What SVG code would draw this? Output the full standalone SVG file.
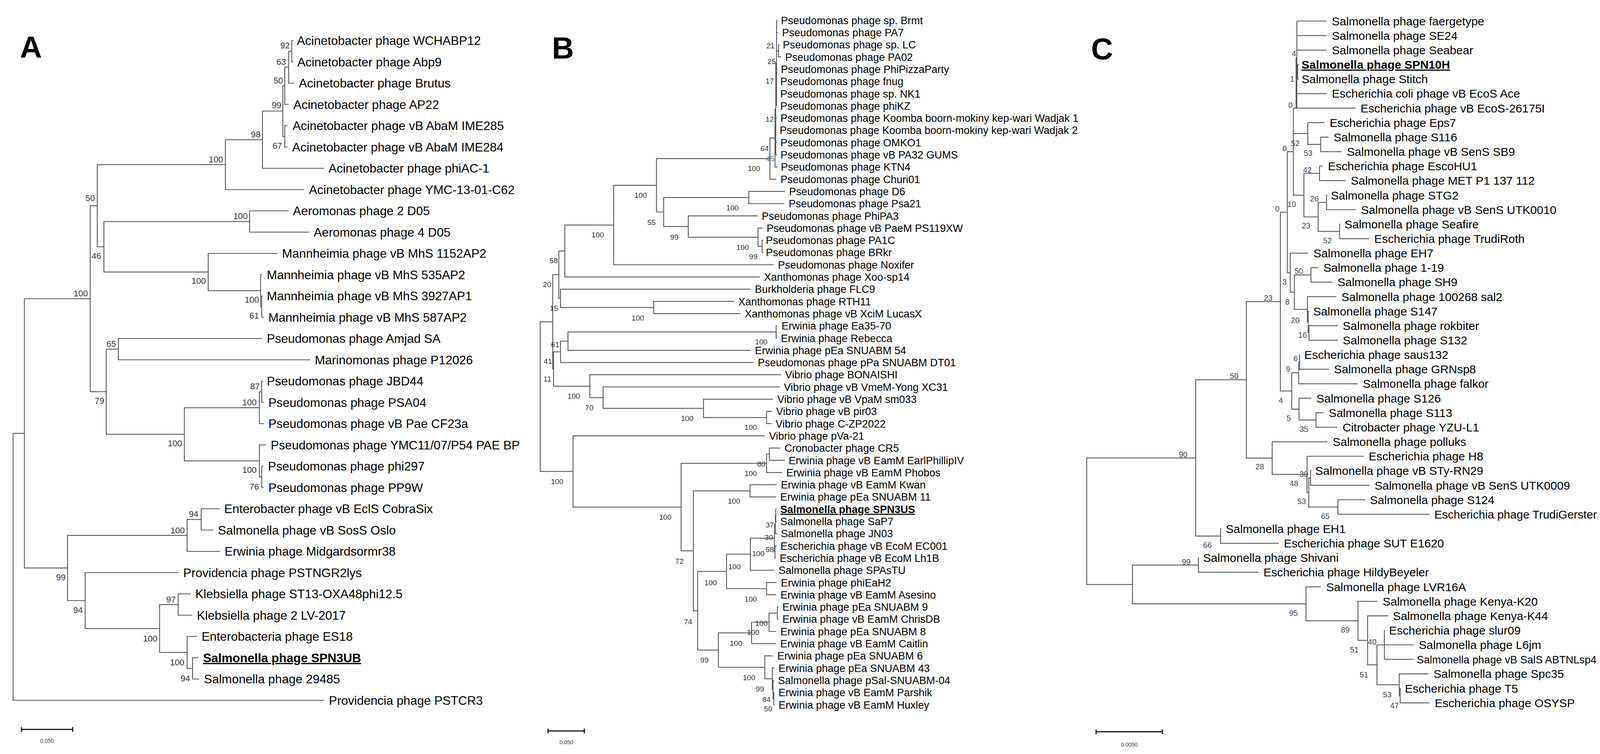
<svg xmlns="http://www.w3.org/2000/svg" width="4164" height="1931" viewBox="0 0 4164 1931">
<style>
.br{fill:none;stroke:#555;stroke-width:2.2}
.sbar{fill:none;stroke:#111;stroke-width:3}
text{font-family:"Liberation Sans",Arial,sans-serif}
.ta{font-size:31.5px;fill:#000}
.tb{font-size:27px;fill:#000}
.tc{font-size:30px;fill:#000}
.hl{font-weight:bold;text-decoration:underline}
.sa{font-size:22px;fill:#333;text-anchor:end}
.sb{font-size:19px;fill:#333;text-anchor:end}
.sc{font-size:20px;fill:#34475d;text-anchor:end}
.blue{fill:#4a7ba6}
.pl{font-size:78px;font-weight:bold;fill:#000}
.sl{font-size:14px;fill:#444;text-anchor:middle}
</style>
<rect width="4164" height="1931" fill="#fff"/>
<g id="panel-letters">
<text class="pl" x="51" y="148">A</text>
<text class="pl" x="1413" y="150">B</text>
<text class="pl" x="2793" y="152">C</text>
</g>
<g id="branches">
<!-- Panel A -->
<path class="br" d="M751 104H747V158.5H751"/>
<path class="br" d="M747 131.3H739V213H753"/>
<path class="br" d="M739 172.1H729V267.5H739"/>
<path class="br" d="M736 322H729V376.5H736"/>
<path class="br" d="M729 219.8H724V349.3H729"/>
<path class="br" d="M724 284.5H672V431H829"/>
<path class="br" d="M672 357.8H577V485.5H779"/>
<path class="br" d="M738 540H639V594.5H791"/>
<path class="br" d="M673 758H670V812.5H675"/>
<path class="br" d="M671 703.5H667V785.3H670"/>
<path class="br" d="M710 649H533V744.4H667"/>
<path class="br" d="M639 567.3H266V696.7H533"/>
<path class="br" d="M577 421.6H249V632H266"/>
<path class="br" d="M671 867H303V921.5H794"/>
<path class="br" d="M673 976H670V1030.5H675"/>
<path class="br" d="M670 1003.3H664V1085H675"/>
<path class="br" d="M674 1194H670V1248.5H675"/>
<path class="br" d="M681 1139.5H664V1221.3H670"/>
<path class="br" d="M664 1044.1H472V1180.4H664"/>
<path class="br" d="M303 894.3H272V1112.2H472"/>
<path class="br" d="M249 526.8H231V1003.2H272"/>
<path class="br" d="M562 1303H515V1357.5H546"/>
<path class="br" d="M515 1330.3H479V1412H563"/>
<path class="br" d="M488 1521H456V1575.5H492"/>
<path class="br" d="M508 1684.5H493V1739H510"/>
<path class="br" d="M504 1630H479V1711.8H493"/>
<path class="br" d="M456 1548.3H408.5V1670.9H479"/>
<path class="br" d="M457 1466.5H218V1609.6H408.5"/>
<path class="br" d="M479 1371.1H173V1538H218"/>
<path class="br" d="M231 765H62.5V1454.6H173"/>
<path class="br" d="M62.5 1109.8H33.5V1793.5H830"/>
<!-- Panel B -->
<path class="br" d="M1995 114.6H1993V145.9H2000"/>
<path class="br" d="M1988 52V271.1M1988 52H1990M1988 83.3H1992M1988 130.3H1993M1988 177.2H1990M1988 208.5H1989M1988 239.8H1989M1988 271.1H1989"/>
<path class="br" d="M1986 161.6V396.3M1986 161.6H1988M1986 302.4H1989M1986 333.7H1987M1986 365H1989M1986 396.3H1989"/>
<path class="br" d="M1986 278.9H1984V427.6H1990"/>
<path class="br" d="M1984 353.3H1971V458.9H1987"/>
<path class="br" d="M2009 490.2H1917V521.5H2008"/>
<path class="br" d="M1954 615.4H1951V646.7H1954"/>
<path class="br" d="M1952 584.1H1940.5V631.1H1951"/>
<path class="br" d="M1940 552.8H1762V607.6H1940.5"/>
<path class="br" d="M1917 505.9H1699V580.2H1762"/>
<path class="br" d="M1971 406.1H1680.6V543H1699"/>
<path class="br" d="M1680.6 474.6H1571V678H1980"/>
<path class="br" d="M1571 576.3H1446V709.3H1945"/>
<path class="br" d="M1879.5 771.9H1673.5V803.2H1896"/>
<path class="br" d="M1921.5 740.6H1435V787.6H1673.5"/>
<path class="br" d="M1446 642.8H1430.6V764.1H1435"/>
<path class="br" d="M1990 834.5H1987V865.8H1989"/>
<path class="br" d="M1987 850.2H1454V897.1H1921.5"/>
<path class="br" d="M1454 873.6H1435V928.4H1929"/>
<path class="br" d="M1976 1053.6H1962.5V1084.9H1975"/>
<path class="br" d="M1979 1022.3H1801V1069.3H1962.5"/>
<path class="br" d="M1996 991H1544V1045.8H1801"/>
<path class="br" d="M1999 959.7H1510V1018.4H1544"/>
<path class="br" d="M1435 901H1417V989.1H1510"/>
<path class="br" d="M1430.6 703.5H1415V945H1417"/>
<path class="br" d="M1998 1147.5H1969.5V1178.8H2009"/>
<path class="br" d="M1969.5 1163.2H1962.5V1210.1H2002"/>
<path class="br" d="M1988 1241.4H1920V1272.7H1987"/>
<path class="br" d="M1988 1304H1986V1335.3H1988"/>
<path class="br" d="M1986 1319.7H1985V1366.6H1989"/>
<path class="br" d="M1988 1397.9H1984V1429.2H1986"/>
<path class="br" d="M1985 1343.1H1982.5V1413.6H1984"/>
<path class="br" d="M1982.5 1378.3H1921V1460.5H1982"/>
<path class="br" d="M1988 1491.8H1962.5V1523.1H1987"/>
<path class="br" d="M1921 1419.4H1860V1507.5H1962.5"/>
<path class="br" d="M1993 1554.4H1990V1585.7H1993"/>
<path class="br" d="M1990 1570.1H1968.7V1617H1987"/>
<path class="br" d="M1968.7 1593.5H1924V1648.3H1987"/>
<path class="br" d="M1983 1773.5H1981V1804.8H1983"/>
<path class="br" d="M1982 1742.2H1979V1789.2H1981"/>
<path class="br" d="M1983 1710.9H1977V1765.7H1979"/>
<path class="br" d="M1978 1679.6H1958V1738.3H1977"/>
<path class="br" d="M1924 1620.9H1839V1709H1958"/>
<path class="br" d="M1860 1463.4H1786V1664.9H1839"/>
<path class="br" d="M1920 1257.1H1775V1564.2H1786"/>
<path class="br" d="M1962.5 1186.6H1743.6V1410.6H1775"/>
<path class="br" d="M1958 1116.2H1467V1298.6H1743.6"/>
<path class="br" d="M1415 824.2H1383V1207.4H1467"/>
<!-- Panel C -->
<path class="br" d="M3325 165.5H3322V202.6H3325"/>
<path class="br" d="M3320 54V276.9M3320 54H3396M3320 91.2H3396M3320 128.3H3396M3320 184H3322M3320 239.8H3396M3311 276.9H3470"/>
<path class="br" d="M3318 147V276.9"/>
<path class="br" d="M3401 351.2H3381V388.4H3435"/>
<path class="br" d="M3391 314.1H3348V369.8H3381"/>
<path class="br" d="M3387 425.5H3378V462.7H3445"/>
<path class="br" d="M3398 499.8H3396V537H3471"/>
<path class="br" d="M3431 574.1H3429.5V611.3H3505"/>
<path class="br" d="M3396 518.4H3374.6V592.7H3429.5"/>
<path class="br" d="M3378 444.1H3338V555.5H3374.6"/>
<path class="br" d="M3311 276.9V499.8H3338M3311 341.9H3348"/>
<path class="br" d="M3375 685.6H3356V722.7H3411"/>
<path class="br" d="M3425 834.2H3351V871.3H3425"/>
<path class="br" d="M3351 797H3349V852.7H3351"/>
<path class="br" d="M3421 759.9H3347V824.9H3349"/>
<path class="br" d="M3356 704.1H3313.5V792.4H3347"/>
<path class="br" d="M3349 648.4H3303V748.3H3313.5"/>
<path class="br" d="M3311 388.4H3295.6V698.3H3303"/>
<path class="br" d="M3328 908.5H3327V945.6H3402"/>
<path class="br" d="M3327 927H3324.6V982.8H3476"/>
<path class="br" d="M3388 1057.1H3369V1094.2H3424"/>
<path class="br" d="M3357 1019.9H3325.5V1075.6H3369"/>
<path class="br" d="M3324.6 954.9H3306.8V1047.8H3325.5"/>
<path class="br" d="M3295.6 543.4H3277.8V1001.3H3306.8"/>
<path class="br" d="M3357 1205.7H3355V1242.8H3506"/>
<path class="br" d="M3494.6 1280H3425V1317.1H3660"/>
<path class="br" d="M3355 1224.2H3350.5V1298.5H3425"/>
<path class="br" d="M3491 1168.5H3346V1261.4H3350.5"/>
<path class="br" d="M3398 1131.4H3256.8V1214.9H3346"/>
<path class="br" d="M3277.8 772.4H3190.7V1173.1H3256.8"/>
<path class="br" d="M3126.5 1354.3H3124.6V1391.4H3274"/>
<path class="br" d="M3190.7 972.7H3061V1372.8H3124.6"/>
<path class="br" d="M3069.5 1428.6H3068V1465.7H3222"/>
<path class="br" d="M3544 1614.3V1688.6M3544 1614.3H3545.5M3544 1651.5H3619.4M3544 1688.6H3619.4"/>
<path class="br" d="M3586 1762.9H3584.5V1800.1H3660"/>
<path class="br" d="M3657 1725.8H3582V1781.5H3584.5"/>
<path class="br" d="M3544 1651.5H3525V1753.6H3582"/>
<path class="br" d="M3554 1577.2H3501V1702.6H3525"/>
<path class="br" d="M3526.5 1540H3476.4V1639.9H3501"/>
<path class="br" d="M3381 1502.9H3343.4V1589.9H3476.4"/>
<path class="br" d="M3068 1447.2H2899V1546.4H3343.4"/>
<path class="br" d="M3061 1172.8H2782V1496.8H2899"/>
</g>
<g id="scale-bars">
<path class="sbar" d="M55 1868H186M55 1862V1874M186 1862V1874"/>
<text class="sl" x="120.5" y="1902">0.050</text>
<path class="sbar" d="M1403 1872H1496M1403 1866V1878M1496 1866V1878"/>
<text class="sl" x="1450" y="1906">0.050</text>
<path class="sbar" d="M2806 1874H2975.5M2806 1868V1880M2975.5 1868V1880"/>
<text class="sl" x="2891" y="1912">0.0050</text>
</g>
<g id="support-A">
<text class="sa" x="742" y="124">92</text>
<text class="sa" x="732" y="166">63</text>
<text class="sa" x="724.5" y="214">50</text>
<text class="sa" x="720" y="277">99</text>
<text class="sa" x="722" y="381">67</text>
<text class="sa" x="667" y="352">98</text>
<text class="sa" x="571" y="416">100</text>
<text class="sa" x="243" y="515">50</text>
<text class="sa" x="634" y="561">100</text>
<text class="sa" x="259" y="663">46</text>
<text class="sa" x="527" y="727">100</text>
<text class="sa" x="663" y="775">100</text>
<text class="sa" x="663" y="816">61</text>
<text class="sa" x="225" y="759">100</text>
<text class="sa" x="297" y="888">65</text>
<text class="sa" x="665" y="997">87</text>
<text class="sa" x="267" y="1034">79</text>
<text class="sa" x="657" y="1038">100</text>
<text class="sa" x="466" y="1143">100</text>
<text class="sa" x="657" y="1211">100</text>
<text class="sa" x="663" y="1253.5">76</text>
<text class="sa" x="508" y="1324">94</text>
<text class="sa" x="473" y="1366">100</text>
<text class="sa" x="168" y="1486">99</text>
<text class="sa" x="212" y="1569.5">94</text>
<text class="sa" x="450" y="1543">97</text>
<text class="sa" x="403" y="1643">100</text>
<text class="sa" x="472" y="1704">100</text>
<text class="sa" x="486.6" y="1745">94</text>
</g>
<g id="support-B">
<text class="sb" x="1983" y="124">21</text>
<text class="sb" x="1986" y="164">25</text>
<text class="sb" x="1981" y="214">17</text>
<text class="sb" x="1981" y="312">12</text>
<text class="sb" x="1968" y="387">64</text>
<text class="sb blue" x="1982" y="413">45</text>
<text class="sb" x="1946" y="438">100</text>
<text class="sb" x="1656" y="507">100</text>
<text class="sb" x="1891" y="539">100</text>
<text class="sb" x="1678.5" y="576">55</text>
<text class="sb" x="1737" y="613.6">99</text>
<text class="sb" x="1546" y="608">100</text>
<text class="sb" x="1917" y="640">100</text>
<text class="sb" x="1939" y="664">99</text>
<text class="sb" x="1428" y="674">58</text>
<text class="sb" x="1411" y="735">20</text>
<text class="sb" x="1428.5" y="796">15</text>
<text class="sb" x="1648.7" y="820.6">100</text>
<text class="sb" x="1964.6" y="882">100</text>
<text class="sb" x="1432" y="889">61</text>
<text class="sb" x="1413" y="932">41</text>
<text class="sb" x="1411" y="976.7">11</text>
<text class="sb" x="1484.5" y="1021">100</text>
<text class="sb" x="1519" y="1050.6">70</text>
<text class="sb" x="1775" y="1077.8">100</text>
<text class="sb" x="1937.6" y="1101">100</text>
<text class="sb" x="1442" y="1240">100</text>
<text class="sb" x="1959.6" y="1194.7">80</text>
<text class="sb" x="1937.6" y="1219.4">100</text>
<text class="sb" x="1895" y="1289.6">100</text>
<text class="sb" x="1719" y="1330.6">100</text>
<text class="sb" x="1981" y="1351">37</text>
<text class="sb" x="1979" y="1382.5">30</text>
<text class="sb" x="1981" y="1414">58</text>
<text class="sb" x="1957" y="1423.6">100</text>
<text class="sb" x="1750" y="1443.8">72</text>
<text class="sb" x="1896" y="1458">100</text>
<text class="sb" x="1835" y="1499">100</text>
<text class="sb" x="1937.6" y="1540.5">100</text>
<text class="sb" x="1772" y="1598.6">74</text>
<text class="sb" x="1965" y="1602.5">100</text>
<text class="sb" x="1944" y="1626">100</text>
<text class="sb" x="1900" y="1654">100</text>
<text class="sb" x="1814" y="1697">99</text>
<text class="sb" x="1933.5" y="1741.5">100</text>
<text class="sb" x="1956" y="1771">99</text>
<text class="sb" x="1973" y="1797.8">84</text>
<text class="sb" x="1977" y="1821.8">50</text>
</g>
<g id="support-C">
<text class="sc" x="3318" y="144">4</text>
<text class="sc" x="3313.5" y="209.4">1</text>
<text class="sc" x="3309" y="275.6">0</text>
<text class="sc" x="3327" y="373.5">52</text>
<text class="sc" x="3294" y="387">0</text>
<text class="sc" x="3360" y="399">53</text>
<text class="sc" x="3358" y="442">42</text>
<text class="sc" x="3318" y="529.7">10</text>
<text class="sc" x="3275.5" y="542">0</text>
<text class="sc" x="3376" y="515.6">26</text>
<text class="sc" x="3354.5" y="584.8">23</text>
<text class="sc" x="3409.5" y="622.8">52</text>
<text class="sc" x="3336" y="701">50</text>
<text class="sc" x="3294" y="728.7">3</text>
<text class="sc" x="3257.7" y="770.3">23</text>
<text class="sc" x="3301" y="779.5">8</text>
<text class="sc" x="3327" y="826.7">20</text>
<text class="sc" x="3346" y="864.7">16</text>
<text class="sc" x="3322.4" y="924.7">6</text>
<text class="sc" x="3303" y="952">9</text>
<text class="sc" x="3170.6" y="970.3">50</text>
<text class="sc" x="3284.5" y="1031.7">4</text>
<text class="sc" x="3304.5" y="1077.8">5</text>
<text class="sc" x="3349" y="1105.6">35</text>
<text class="sc" x="3040" y="1170.7">90</text>
<text class="sc" x="3236" y="1202.3">28</text>
<text class="sc" x="3349" y="1221.3">30</text>
<text class="sc" x="3323.7" y="1244.7">48</text>
<text class="sc" x="3343.4" y="1290.8">53</text>
<text class="sc" x="3404" y="1328.8">65</text>
<text class="sc" x="3102.3" y="1403.3">66</text>
<text class="sc" x="3047.9" y="1445.7">99</text>
<text class="sc" x="3322.4" y="1576.5">95</text>
<text class="sc" x="3455" y="1619.5">89</text>
<text class="sc" x="3478.2" y="1671.4">51</text>
<text class="sc" x="3523.8" y="1651">40</text>
<text class="sc" x="3503" y="1734.6">51</text>
<text class="sc" x="3562.5" y="1785.8">53</text>
<text class="sc" x="3581" y="1813.6">47</text>
</g>
<g id="A01"><text class="ta" x="760" y="115.3">Acinetobacter phage WCHABP12</text></g>
<g id="A02"><text class="ta" x="761" y="169.8">Acinetobacter phage Abp9</text></g>
<g id="A03"><text class="ta" x="765" y="224.3">Acinetobacter phage Brutus</text></g>
<g id="A04"><text class="ta" x="751" y="278.8">Acinetobacter phage AP22</text></g>
<g id="A05"><text class="ta" x="749" y="333.3">Acinetobacter phage vB AbaM IME285</text></g>
<g id="A06"><text class="ta" x="748" y="387.8">Acinetobacter phage vB AbaM IME284</text></g>
<g id="A07"><text class="ta" x="841" y="442.3">Acinetobacter phage phiAC-1</text></g>
<g id="A08"><text class="ta" x="791" y="496.8">Acinetobacter phage YMC-13-01-C62</text></g>
<g id="A09"><text class="ta" x="750" y="551.3">Aeromonas phage 2 D05</text></g>
<g id="A10"><text class="ta" x="803" y="605.8">Aeromonas phage 4 D05</text></g>
<g id="A11"><text class="ta" x="722" y="660.3">Mannheimia phage vB MhS 1152AP2</text></g>
<g id="A12"><text class="ta" x="683" y="714.8">Mannheimia phage vB MhS 535AP2</text></g>
<g id="A13"><text class="ta" x="683" y="769.3">Mannheimia phage vB MhS 3927AP1</text></g>
<g id="A14"><text class="ta" x="687" y="823.8">Mannheimia phage vB MhS 587AP2</text></g>
<g id="A15"><text class="ta" x="683" y="878.3">Pseudomonas phage Amjad SA</text></g>
<g id="A16"><text class="ta" x="806" y="932.8">Marinomonas phage P12026</text></g>
<g id="A17"><text class="ta" x="683" y="987.3">Pseudomonas phage JBD44</text></g>
<g id="A18"><text class="ta" x="687" y="1041.8">Pseudomonas phage PSA04</text></g>
<g id="A19"><text class="ta" x="687" y="1096.3">Pseudomonas phage vB Pae CF23a</text></g>
<g id="A20"><text class="ta" x="693" y="1150.8">Pseudomonas phage YMC11/07/P54 PAE BP</text></g>
<g id="A21"><text class="ta" x="686" y="1205.3">Pseudomonas phage phi297</text></g>
<g id="A22"><text class="ta" x="687" y="1259.8">Pseudomonas phage PP9W</text></g>
<g id="A23"><text class="ta" x="574" y="1314.3">Enterobacter phage vB EclS CobraSix</text></g>
<g id="A24"><text class="ta" x="558" y="1368.8">Salmonella phage vB SosS Oslo</text></g>
<g id="A25"><text class="ta" x="575" y="1423.3">Erwinia phage Midgardsormr38</text></g>
<g id="A26"><text class="ta" x="469" y="1477.8">Providencia phage PSTNGR2lys</text></g>
<g id="A27"><text class="ta" x="500" y="1532.3">Klebsiella phage ST13-OXA48phi12.5</text></g>
<g id="A28"><text class="ta" x="504" y="1586.8">Klebsiella phage 2 LV-2017</text></g>
<g id="A29"><text class="ta" x="516" y="1641.3">Enterobacteria phage ES18</text></g>
<g id="A30"><text class="ta hl" x="520" y="1695.8">Salmonella phage SPN3UB</text></g>
<g id="A31"><text class="ta" x="522" y="1750.3">Salmonella phage 29485</text></g>
<g id="A32"><text class="ta" x="842" y="1804.8">Providencia phage PSTCR3</text></g>
<g id="B01"><text class="tb" x="1999.3" y="61.7">Pseudomonas phage sp. Brmt</text></g>
<g id="B02"><text class="tb" x="2002" y="93">Pseudomonas phage PA7</text></g>
<g id="B03"><text class="tb" x="2004" y="124.3">Pseudomonas phage sp. LC</text></g>
<g id="B04"><text class="tb" x="2010" y="155.6">Pseudomonas phage PA02</text></g>
<g id="B05"><text class="tb" x="1999" y="186.9">Pseudomonas phage PhiPizzaParty</text></g>
<g id="B06"><text class="tb" x="1997.5" y="218.2">Pseudomonas phage fnug</text></g>
<g id="B07"><text class="tb" x="1997.5" y="249.5">Pseudomonas phage sp. NK1</text></g>
<g id="B08"><text class="tb" x="1997.5" y="280.8">Pseudomonas phage phiKZ</text></g>
<g id="B09"><text class="tb" x="1998" y="312.1">Pseudomonas phage Koomba boorn-mokiny kep-wari Wadjak 1</text></g>
<g id="B10"><text class="tb" x="1996" y="343.4">Pseudomonas phage Koomba boorn-mokiny kep-wari Wadjak 2</text></g>
<g id="B11"><text class="tb" x="1998" y="374.7">Pseudomonas phage OMKO1</text></g>
<g id="B12"><text class="tb" x="1998" y="406">Pseudomonas phage vB PA32 GUMS</text></g>
<g id="B13"><text class="tb" x="1999" y="437.3">Pseudomonas phage KTN4</text></g>
<g id="B14"><text class="tb" x="1998" y="468.6">Pseudomonas phage Churi01</text></g>
<g id="B15"><text class="tb" x="2020" y="499.9">Pseudomonas phage D6</text></g>
<g id="B16"><text class="tb" x="2019" y="531.2">Pseudomonas phage Psa21</text></g>
<g id="B17"><text class="tb" x="1950" y="562.5">Pseudomonas phage PhiPA3</text></g>
<g id="B18"><text class="tb" x="1962.5" y="593.8">Pseudomonas phage vB PaeM PS119XW</text></g>
<g id="B19"><text class="tb" x="1960.4" y="625.1">Pseudomonas phage PA1C</text></g>
<g id="B20"><text class="tb" x="1960.4" y="656.4">Pseudomonas phage BRkr</text></g>
<g id="B21"><text class="tb" x="1991.5" y="687.7">Pseudomonas phage Noxifer</text></g>
<g id="B22"><text class="tb" x="1956" y="719">Xanthomonas phage Xoo-sp14</text></g>
<g id="B23"><text class="tb" x="1932.6" y="750.3">Burkholderia phage FLC9</text></g>
<g id="B24"><text class="tb" x="1890" y="781.6">Xanthomonas phage RTH11</text></g>
<g id="B25"><text class="tb" x="1906.5" y="812.9">Xanthomonas phage vB XciM LucasX</text></g>
<g id="B26"><text class="tb" x="2000.7" y="844.2">Erwinia phage Ea35-70</text></g>
<g id="B27"><text class="tb" x="1999" y="875.5">Erwinia phage Rebecca</text></g>
<g id="B28"><text class="tb" x="1932.6" y="906.8">Erwinia phage pEa SNUABM 54</text></g>
<g id="B29"><text class="tb" x="1939.7" y="938.1">Pseudomonas phage pPa SNUABM DT01</text></g>
<g id="B30"><text class="tb" x="2010" y="969.4">Vibrio phage BONAISHI</text></g>
<g id="B31"><text class="tb" x="2006.6" y="1000.7">Vibrio phage vB VmeM-Yong XC31</text></g>
<g id="B32"><text class="tb" x="1990" y="1032">Vibrio phage vB VpaM sm033</text></g>
<g id="B33"><text class="tb" x="1987" y="1063.3">Vibrio phage vB pir03</text></g>
<g id="B34"><text class="tb" x="1985.5" y="1094.6">Vibrio phage C-ZP2022</text></g>
<g id="B35"><text class="tb" x="1968.7" y="1125.9">Vibrio phage pVa-21</text></g>
<g id="B36"><text class="tb" x="2008.5" y="1157.2">Cronobacter phage CR5</text></g>
<g id="B37"><text class="tb" x="2019" y="1188.5">Erwinia phage vB EamM EarlPhillipIV</text></g>
<g id="B38"><text class="tb" x="2013" y="1219.8">Erwinia phage vB EamM Phobos</text></g>
<g id="B39"><text class="tb" x="1999" y="1251.1">Erwinia phage vB EamM Kwan</text></g>
<g id="B40"><text class="tb" x="1997.5" y="1282.4">Erwinia phage pEa SNUABM 11</text></g>
<g id="B41"><text class="tb hl" x="1997.5" y="1313.7">Salmonella phage SPN3US</text></g>
<g id="B42"><text class="tb" x="1997.5" y="1345">Salmonella phage SaP7</text></g>
<g id="B43"><text class="tb" x="1999" y="1376.3">Salmonella phage JN03</text></g>
<g id="B44"><text class="tb" x="1998" y="1407.6">Escherichia phage vB EcoM EC001</text></g>
<g id="B45"><text class="tb" x="1996" y="1438.9">Escherichia phage vB EcoM Lh1B</text></g>
<g id="B46"><text class="tb" x="1993" y="1470.2">Salmonella phage SPAsTU</text></g>
<g id="B47"><text class="tb" x="1999" y="1501.5">Erwinia phage phiEaH2</text></g>
<g id="B48"><text class="tb" x="1998" y="1532.8">Erwinia phage vB EamM Asesino</text></g>
<g id="B49"><text class="tb" x="2003" y="1564.1">Erwinia phage pEa SNUABM 9</text></g>
<g id="B50"><text class="tb" x="2003" y="1595.4">Erwinia phage vB EamM ChrisDB</text></g>
<g id="B51"><text class="tb" x="1998" y="1626.7">Erwinia phage pEa SNUABM 8</text></g>
<g id="B52"><text class="tb" x="1997.5" y="1658">Erwinia phage vB EamM Caitlin</text></g>
<g id="B53"><text class="tb" x="1990" y="1689.3">Erwinia phage pEa SNUABM 6</text></g>
<g id="B54"><text class="tb" x="1993" y="1720.6">Erwinia phage pEa SNUABM 43</text></g>
<g id="B55"><text class="tb" x="1991.5" y="1751.9">Salmonella phage pSal-SNUABM-04</text></g>
<g id="B56"><text class="tb" x="1993" y="1783.2">Erwinia phage vB EamM Parshik</text></g>
<g id="B57"><text class="tb" x="1993" y="1814.5">Erwinia phage vB EamM Huxley</text></g>
<g id="C01"><text class="tc" x="3409.5" y="64.7">Salmonella phage faergetype</text></g>
<g id="C02"><text class="tc" x="3409.5" y="101.8">Salmonella phage SE24</text></g>
<g id="C03"><text class="tc" x="3409.5" y="139">Salmonella phage Seabear</text></g>
<g id="C04"><text class="tc hl" x="3332" y="176.1">Salmonella phage SPN10H</text></g>
<g id="C05"><text class="tc" x="3332" y="213.3">Salmonella phage Stitch</text></g>
<g id="C06"><text class="tc" x="3409.5" y="250.4">Escherichia coli phage vB EcoS Ace</text></g>
<g id="C07"><text class="tc" x="3483" y="287.6">Escherichia phage vB EcoS-26175I</text></g>
<g id="C08"><text class="tc" x="3404" y="324.7">Escherichia phage Eps7</text></g>
<g id="C09"><text class="tc" x="3414" y="361.9">Salmonella phage S116</text></g>
<g id="C10"><text class="tc" x="3448" y="399">Salmonella phage vB SenS SB9</text></g>
<g id="C11"><text class="tc" x="3399.6" y="436.2">Escherichia phage EscoHU1</text></g>
<g id="C12"><text class="tc" x="3458" y="473.3">Salmonella phage MET P1 137 112</text></g>
<g id="C13"><text class="tc" x="3407" y="510.5">Salmonella phage STG2</text></g>
<g id="C14"><text class="tc" x="3484" y="547.6">Salmonella phage vB SenS UTK0010</text></g>
<g id="C15"><text class="tc" x="3442" y="584.8">Salmonella phage Seafire</text></g>
<g id="C16"><text class="tc" x="3518" y="621.9">Escherichia phage TrudiRoth</text></g>
<g id="C17"><text class="tc" x="3362.6" y="659.1">Salmonella phage EH7</text></g>
<g id="C18"><text class="tc" x="3388" y="696.2">Salmonella phage 1-19</text></g>
<g id="C19"><text class="tc" x="3424" y="733.4">Salmonella phage SH9</text></g>
<g id="C20"><text class="tc" x="3434" y="770.5">Salmonella phage 100268 sal2</text></g>
<g id="C21"><text class="tc" x="3361.7" y="807.7">Salmonella phage S147</text></g>
<g id="C22"><text class="tc" x="3437.6" y="844.8">Salmonella phage rokbiter</text></g>
<g id="C23"><text class="tc" x="3437.6" y="882">Salmonella phage S132</text></g>
<g id="C24"><text class="tc" x="3339" y="919.1">Escherichia phage saus132</text></g>
<g id="C25"><text class="tc" x="3415" y="956.3">Salmonella phage GRNsp8</text></g>
<g id="C26"><text class="tc" x="3488.7" y="993.4">Salmonella phage falkor</text></g>
<g id="C27"><text class="tc" x="3370" y="1030.6">Salmonella phage S126</text></g>
<g id="C28"><text class="tc" x="3401.4" y="1067.7">Salmonella phage S113</text></g>
<g id="C29"><text class="tc" x="3437" y="1104.9">Citrobacter phage YZU-L1</text></g>
<g id="C30"><text class="tc" x="3411.7" y="1142">Salmonella phage polluks</text></g>
<g id="C31"><text class="tc" x="3503.7" y="1179.2">Escherichia phage H8</text></g>
<g id="C32"><text class="tc" x="3367" y="1216.3">Salmonella phage vB STy-RN29</text></g>
<g id="C33"><text class="tc" x="3519" y="1253.5">Salmonella phage vB SenS UTK0009</text></g>
<g id="C34"><text class="tc" x="3507" y="1290.6">Salmonella phage S124</text></g>
<g id="C35"><text class="tc" x="3672" y="1327.8" style="font-size:29px" textLength="416" lengthAdjust="spacingAndGlyphs">Escherichia phage TrudiGerster</text></g>
<g id="C36"><text class="tc" x="3138" y="1364.9">Salmonella phage EH1</text></g>
<g id="C37"><text class="tc" x="3286.7" y="1402.1">Escherichia phage SUT E1620</text></g>
<g id="C38"><text class="tc" x="3080" y="1439.2">Salmonella phage Shivani</text></g>
<g id="C39"><text class="tc" x="3234.5" y="1476.4">Escherichia phage HildyBeyeler</text></g>
<g id="C40"><text class="tc" x="3395" y="1513.5">Salmonella phage LVR16A</text></g>
<g id="C41"><text class="tc" x="3539.7" y="1550.7">Salmonella phage Kenya-K20</text></g>
<g id="C42"><text class="tc" x="3566" y="1587.8">Salmonella phage Kenya-K44</text></g>
<g id="C43"><text class="tc" x="3556" y="1625">Escherichia phage slur09</text></g>
<g id="C44"><text class="tc" x="3632" y="1662.1">Salmonella phage L6jm</text></g>
<g id="C45"><text class="tc" x="3627" y="1699.3" style="font-size:28px" textLength="460" lengthAdjust="spacingAndGlyphs">Salmonella phage vB SalS ABTNLsp4</text></g>
<g id="C46"><text class="tc" x="3670" y="1736.4">Salmonella phage Spc35</text></g>
<g id="C47"><text class="tc" x="3596.6" y="1773.6">Escherichia phage T5</text></g>
<g id="C48"><text class="tc" x="3673" y="1810.7">Escherichia phage OSYSP</text></g>
</svg>
